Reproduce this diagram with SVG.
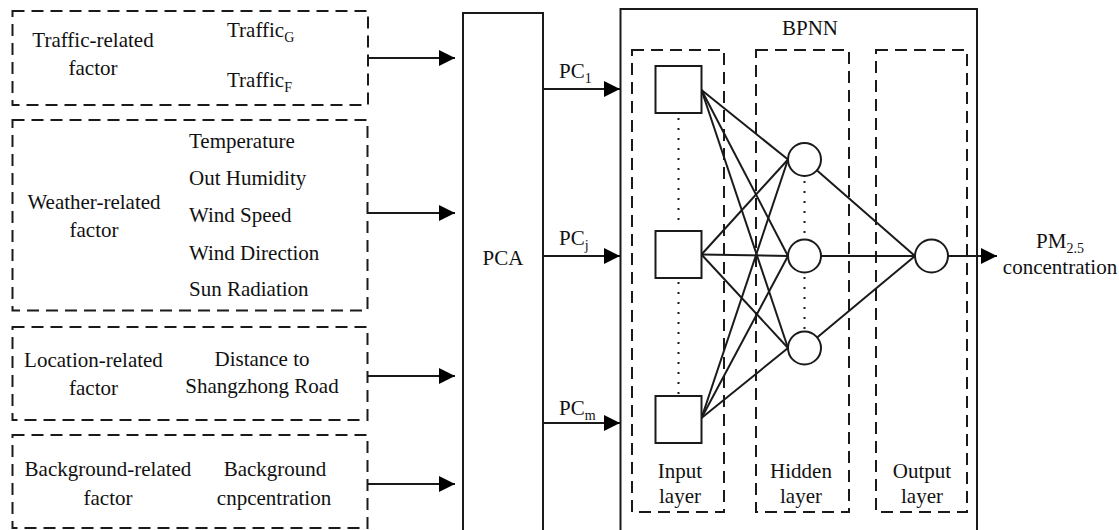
<svg xmlns="http://www.w3.org/2000/svg" width="1119" height="530" viewBox="0 0 1119 530" font-family="'Liberation Serif', 'Times New Roman', serif">
<defs>
<marker id="arr" markerUnits="userSpaceOnUse" markerWidth="16" markerHeight="16" refX="16" refY="8" orient="auto">
<path d="M0,0 L16,8 L0,16 z" fill="#000"/>
</marker>
<style>
text{font-family:'Liberation Serif','Times New Roman',serif;font-size:21px;fill:#111}
.m{text-anchor:middle}
.sub{font-size:14px}
.dash{fill:none;stroke:#1a1a1a;stroke-width:2;stroke-dasharray:12 7}
.box{fill:#fff;stroke:#1a1a1a;stroke-width:2}
.ln{stroke:#1a1a1a;stroke-width:2;fill:none}
.arrow{stroke:#1a1a1a;stroke-width:2;fill:none;marker-end:url(#arr)}
.dot{stroke:#1a1a1a;stroke-width:2;stroke-dasharray:2 8;fill:none}
</style>
</defs>
<rect width="1119" height="530" fill="#fff"/>

<g id="traffic">
<rect class="dash" x="12.5" y="11" width="355.5" height="94"/>
<text class="m" x="93" y="47">Traffic-related</text>
<text class="m" x="93" y="75">factor</text>
<text x="227" y="37">Traffic<tspan class="sub" dy="5">G</tspan></text>
<text x="227" y="87">Traffic<tspan class="sub" dy="5">F</tspan></text>
</g>

<g id="weather">
<rect class="dash" x="12.5" y="120" width="355" height="190.5"/>
<text class="m" x="94" y="209">Weather-related</text>
<text class="m" x="94" y="237">factor</text>
<text x="189" y="148">Temperature</text>
<text x="189" y="185">Out Humidity</text>
<text x="189" y="222">Wind Speed</text>
<text x="189" y="260">Wind Direction</text>
<text x="189" y="296">Sun Radiation</text>
</g>

<g id="location">
<rect class="dash" x="12.5" y="327" width="355" height="93"/>
<text class="m" x="93.5" y="367">Location-related</text>
<text class="m" x="93.5" y="395">factor</text>
<text class="m" x="262" y="366">Distance to</text>
<text class="m" x="262" y="393">Shangzhong Road</text>
</g>

<g id="background">
<rect class="dash" x="12.5" y="435" width="355" height="93"/>
<text class="m" x="108" y="476">Background-related</text>
<text class="m" x="108" y="505">factor</text>
<text class="m" x="275" y="476">Background</text>
<text class="m" x="274" y="505">cnpcentration</text>
</g>

<g id="pca">
<rect class="box" x="463" y="13" width="80" height="530"/>
<text class="m" x="503" y="265">PCA</text>
</g>

<g id="bpnn">
<rect class="box" x="620.5" y="9" width="356.5" height="530"/>
<text class="m" x="810" y="35">BPNN</text>
</g>

<g id="input-layer">
<rect class="dash" x="632" y="50" width="92" height="462"/>
<text class="m" x="680" y="478">Input</text>
<text class="m" x="680" y="503">layer</text>
</g>
<g id="hidden-layer">
<rect class="dash" x="756" y="50" width="93" height="462"/>
<text class="m" x="801" y="478">Hidden</text>
<text class="m" x="801" y="503">layer</text>
</g>
<g id="output-layer">
<rect class="dash" x="876" y="50" width="91" height="462"/>
<text class="m" x="922" y="478">Output</text>
<text class="m" x="922" y="503">layer</text>
</g>

<g id="connectors">
<line class="arrow" x1="368" y1="58" x2="455" y2="58"/>
<line class="arrow" x1="367.5" y1="213" x2="455" y2="213"/>
<line class="arrow" x1="367.5" y1="376" x2="455" y2="376"/>
<line class="arrow" x1="367.5" y1="484" x2="455" y2="484"/>
<line class="arrow" x1="543" y1="89" x2="620" y2="89"/>
<line class="arrow" x1="543" y1="256" x2="620" y2="256"/>
<line class="arrow" x1="543" y1="423" x2="620" y2="423"/>
<line class="ln" x1="701.5" y1="90" x2="788" y2="159.5"/>
<line class="ln" x1="701.5" y1="90" x2="788" y2="256"/>
<line class="ln" x1="701.5" y1="90" x2="788" y2="348"/>
<line class="ln" x1="701.5" y1="254.5" x2="788" y2="159.5"/>
<line class="ln" x1="701.5" y1="254.5" x2="788" y2="256"/>
<line class="ln" x1="701.5" y1="254.5" x2="788" y2="348"/>
<line class="ln" x1="701.5" y1="418" x2="788" y2="159.5"/>
<line class="ln" x1="701.5" y1="418" x2="788" y2="256"/>
<line class="ln" x1="701.5" y1="418" x2="788" y2="348"/>
<line class="ln" x1="804.5" y1="159.5" x2="915" y2="256"/>
<line class="ln" x1="804.5" y1="256" x2="915" y2="256"/>
<line class="ln" x1="804.5" y1="348" x2="915" y2="256"/>
<line class="arrow" x1="948" y1="256" x2="997" y2="256"/>
<line class="dot" x1="678.5" y1="118" x2="678.5" y2="228"/>
<line class="dot" x1="678.5" y1="282" x2="678.5" y2="394"/>
<line class="dot" x1="804.5" y1="181" x2="804.5" y2="238"/>
<line class="dot" x1="804.5" y1="277" x2="804.5" y2="330"/>
<text x="559" y="78">PC<tspan class="sub" dy="5">1</tspan></text>
<text x="559" y="245">PC<tspan class="sub" dy="5">j</tspan></text>
<text x="559" y="415">PC<tspan class="sub" dy="5">m</tspan></text>
</g>

<g id="in1"><rect class="box" x="655.5" y="66" width="46" height="47"/></g>
<g id="inj"><rect class="box" x="655.5" y="231" width="46" height="47"/></g>
<g id="inm"><rect class="box" x="655.5" y="396" width="46" height="47"/></g>
<g id="h1"><circle class="box" cx="804.5" cy="159.5" r="16.5"/></g>
<g id="h2"><circle class="box" cx="804.5" cy="256" r="16.5"/></g>
<g id="h3"><circle class="box" cx="804.5" cy="348" r="16.5"/></g>
<g id="out"><circle class="box" cx="931.5" cy="256" r="16.5"/></g>

<g id="pm25">
<text class="m" x="1060" y="248">PM<tspan class="sub" dy="5">2.5</tspan></text>
<text class="m" x="1060" y="274">concentration</text>
</g>
</svg>
